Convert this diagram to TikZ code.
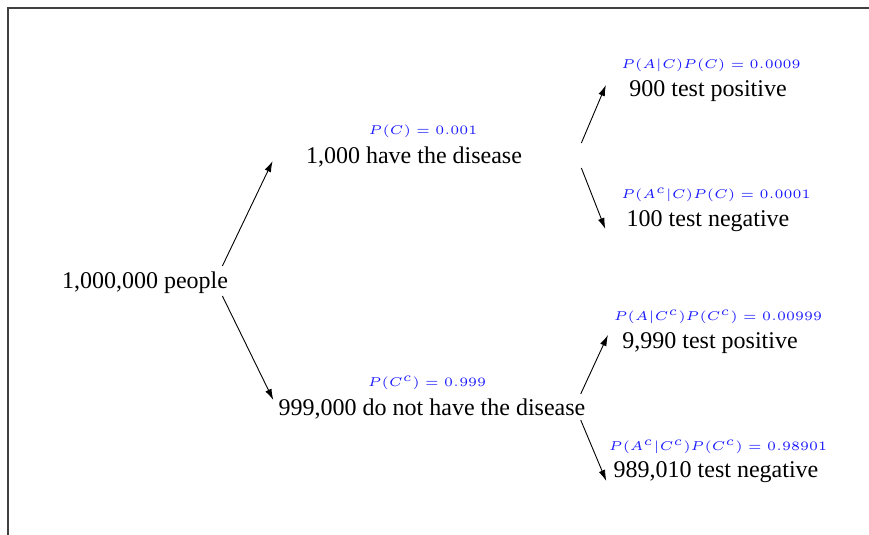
\documentclass[tikz,border=0pt]{standalone}
\usepackage{graphicx}
\usepackage{fontspec}
\setmainfont{Liberation Serif}
\usetikzlibrary{arrows.meta}
\newcommand{\problabel}[1]{\scalebox{1.32}[1.28]{$#1$}}
\begin{document}
\begin{tikzpicture}[x=0.5pt,y=-0.5pt,
  main/.style={inner sep=0pt,font=\fontsize{12}{14}\selectfont},
  prob/.style={inner sep=0pt,text=blue!90!white,font=\tiny},
  arr/.style={-{Latex[length=5.5pt,width=3.4pt]},line width=0.45pt},
  frame/.style={line width=0.6pt,black!75}]
\useasboundingbox (0,0) rectangle (869,535);
\coordinate (tl) at (8,8);
\coordinate (tr) at (869,8);
\coordinate (bl) at (8,535);
\draw[frame] (tr) -- (tl) -- (bl);
% nodes
\node[main] (root) at (145,283) {1,000,000 people};
\node[main] (c) at (414,157) {1,000 have the disease};
\node[main] (nc) at (432,409) {999,000 do not have the disease};
\node[main] (cp) at (708,91) {900 test positive};
\node[main] (cn) at (708,221) {100 test negative};
\node[main] (ncp) at (710,343) {9,990 test positive};
\node[main] (ncn) at (716,472) {989,010 test negative};
% probabilities
\node[prob] (pc) at (423,131) {\problabel{P(C) = 0.001}};
\node[prob] (pnc) at (427,383) {\problabel{P(C^c) = 0.999}};
\node[prob] (pcp) at (711,65) {\problabel{P(A|C)P(C) = 0.0009}};
\node[prob] (pcn) at (716,195) {\problabel{P(A^c|C)P(C) = 0.0001}};
\node[prob] (pncp) at (718,317) {\problabel{P(A|C^c)P(C^c) = 0.00999}};
\node[prob] (pncn) at (718,447) {\problabel{P(A^c|C^c)P(C^c) = 0.98901}};
% arrows
\draw[arr] ([shift={(-6,-17)}]root.east) -- ([shift={(-33,4)}]c.west);
\draw[arr] ([shift={(-6,13)}]root.east) -- ([shift={(-5,-9)}]nc.west);
\draw[arr] ([shift={(59,-14)}]c.east) -- ([shift={(-23,-6)}]cp.west);
\draw[arr] ([shift={(59,11)}]c.east) -- ([shift={(-21,8)}]cn.west);
\draw[arr] ([shift={(-5,-15)}]nc.east) -- ([shift={(-14,-8)}]ncp.west);
\draw[arr] ([shift={(-5,11)}]nc.east) -- ([shift={(-7,9)}]ncn.west);
\end{tikzpicture}
\end{document}
